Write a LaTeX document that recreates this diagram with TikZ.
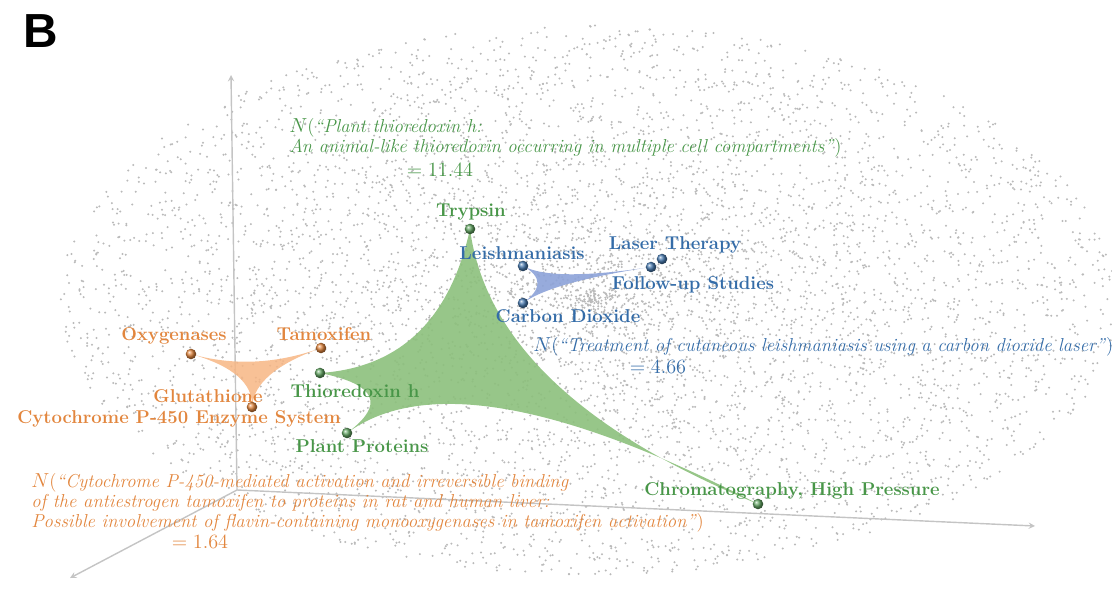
\documentclass[tikz,border=0pt]{standalone}
\usepackage{fontspec}
\newfontfamily\panelfont{Liberation Sans}
\usepackage{tikz}
\usetikzlibrary{positioning,calc}
\definecolor{grn}{RGB}{72,150,72}
\definecolor{blu}{RGB}{52,108,168}
\definecolor{org}{RGB}{226,134,62}
\definecolor{grnfill}{RGB}{140,192,124}
\definecolor{blufill}{RGB}{140,162,216}
\definecolor{orgfill}{RGB}{247,182,132}
\definecolor{axisgray}{RGB}{196,196,196}
\definecolor{dotgray}{RGB}{186,186,186}
\pgfdeclarelayer{cloud}
\pgfdeclarelayer{edges}
\pgfsetlayers{cloud,edges,main}
\newcommand{\bendto}[3]% from, to, pull point
{.. controls ($(#1)!.667!(#3)$) and ($(#2)!.667!(#3)$) .. (#2)
}
\newcommand{\hypertri}[4]% corner a, corner b, corner c, pull point
{(#1) \bendto{#1}{#2}{#4} \bendto{#2}{#3}{#4} \bendto{#3}{#1}{#4} -- cycle
}
\tikzset{
  termpt/.style={circle, inner sep=0pt, minimum size=7.5pt, shading=ball, ball color=#1},
  termlbl/.style={font=\fontsize{13.2}{15}\selectfont\bfseries, text=#1, inner sep=0pt},
  titlenote/.style={font=\fontsize{13.3}{14.2}\selectfont, text=#1, inner sep=0pt, align=left},
  scorenote/.style={font=\fontsize{15.5}{17}\selectfont, text=#1, inner sep=0pt},
  axisline/.style={draw=axisgray, line width=1pt, -stealth}
}

\begin{document}
\begin{tikzpicture}[x=0.025cm, y=-0.025cm]
	\useasboundingbox (0,0) rectangle (1112,592);
	% points
	\node[termpt=grn!85] (tryp) at (470,229){};
	\node[termpt=grn!85] (thio) at (320,373){};
	\node[termpt=grn!85] (plant) at (347,433){};
	\node[termpt=grn!85] (chrom) at (758,504){};
	\node[termpt=blu!90] (leish) at (523,266){};
	\node[termpt=blu!90] (follow) at (651,267){};
	\node[termpt=blu!90] (laser) at (662,259){};
	\node[termpt=blu!90] (carb) at (523,303){};
	\node[termpt=org] (oxy) at (191,354){};
	\node[termpt=org] (tam) at (321,348){};
	\node[termpt=org] (glut) at (252,407){};
	% background cloud and axes
	\begin{pgfonlayer}{cloud}
	\pgfmathsetseed{42}
	\foreach \i in {1,...,6500}{
		\pgfmathsetmacro{\ang}{360*rnd}
		\pgfmathsetmacro{\rad}{rnd^0.75}
		\fill[dotgray] ({590+530*\rad*cos(\ang)},{300+275*\rad*sin(\ang)}) circle (0.8pt);
	}
	\coordinate (orig) at (237,490);
	\coordinate (xtip) at (1035,526);
	\coordinate (ytip) at (231,75);
	\coordinate (ztip) at (70,578);
	\draw[axisline] (orig) -- (xtip);
	\draw[axisline] (orig) -- (ytip);
	\draw[axisline] (orig) -- (ztip);
	\end{pgfonlayer}
	% hyperedges
	\coordinate (gleft) at (440,365);
	\coordinate (gright) at (492,395);
	\coordinate (gbottom) at (460,350);
	\coordinate (gnotch) at (405,390);
	\coordinate (bmid) at (552,282);
	\coordinate (omid) at (254,372);
	\begin{pgfonlayer}{edges}
	\fill[grnfill, opacity=.9] (tryp.center) \bendto{tryp.center}{thio.center}{gleft} \bendto{thio.center}{plant.center}{gnotch}
		\bendto{plant.center}{chrom.center}{gbottom} \bendto{chrom.center}{tryp.center}{gright} -- cycle;
	\fill[blufill, opacity=.9] \hypertri{leish.center}{follow.center}{carb.center}{bmid};
	\fill[orgfill, opacity=.85] \hypertri{oxy.center}{tam.center}{glut.center}{omid};
	\end{pgfonlayer}
	% labels
	\node[termlbl=grn] at (471,212){Trypsin};
	\node[termlbl=grn] at (355,391){Thioredoxin h};
	\node[termlbl=grn] at (362,446){Plant Proteins};
	\node[termlbl=grn] at (792,491){Chromatography, High Pressure};
	\node[termlbl=blu] at (522,253){Leishmaniasis};
	\node[termlbl=blu] at (675,245){Laser Therapy};
	\node[termlbl=blu] at (693,285){Follow-up Studies};
	\node[termlbl=blu] at (568,316){Carbon Dioxide};
	\node[termlbl=org] at (174,336){Oxygenases};
	\node[termlbl=org] at (324,334){Tamoxifen};
	\node[termlbl=org] at (208,396){Glutathione};
	\node[termlbl=org] at (179,419){Cytochrome P-450 Enzyme System};
	% scores
	\node[titlenote=grn, anchor=north west] (gnote) at (289,118){$N$(\textit{``Plant thioredoxin h:}\\\textit{An animal-like thioredoxin occurring in multiple cell compartments''})};
	\node[scorenote=grn] (gscore) at (440,170){$=11.44$};
	\node[titlenote=blu, anchor=west] (bnote) at (533,347){$N$(\textit{``Treatment of cutaneous leishmaniasis using a carbon dioxide laser''})};
	\node[scorenote=blu] (bscore) at (658,367){$=4.66$};
	\node[titlenote=org, anchor=north west] (onote) at (31,473){$N$(\textit{``Cytochrome P-450-mediated activation and irreversible binding}\\\textit{of the antiestrogen tamoxifen to proteins in rat and human liver:}\\\textit{Possible involvement of flavin-containing monooxygenases in tamoxifen activation''})};
	\node[scorenote=org] (oscore) at (200,542){$=1.64$};
	\node[font=\panelfont\bfseries\fontsize{34}{36}\selectfont, inner sep=0pt] (panel) at (41,31){B};
\end{tikzpicture}
\end{document}
